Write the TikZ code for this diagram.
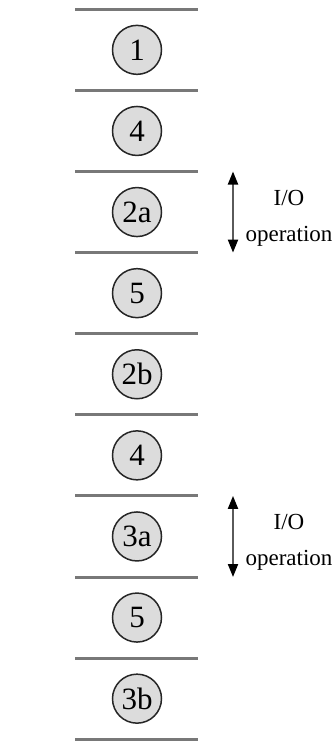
\documentclass[tikz,border=0pt]{standalone}
\usepackage{fontspec}
\setmainfont{Liberation Serif}
\usetikzlibrary{arrows.meta}
\definecolor{sepgray}{RGB}{120,120,120}
\definecolor{circfill}{RGB}{220,220,220}
\definecolor{arrgray}{RGB}{90,90,90}
\begin{document}
\begin{tikzpicture}[x=1pt,y=-1pt,
  sep/.style={draw=sepgray,line width=3pt},
  stage/.style={circle,draw=black!85,fill=circfill,line width=1.5pt,minimum size=49pt,inner sep=0pt,font=\fontsize{31}{31}\selectfont},
  io/.style={align=center,inner sep=0pt,font=\fontsize{23}{36}\selectfont},
  ioarrow/.style={draw=arrgray,line width=2pt,{Triangle[length=13pt,width=10pt,color=black]}-{Triangle[length=13pt,width=10pt,color=black]}}]
\useasboundingbox (0,0) rectangle (332,745);
\foreach \i in {0,...,9}
  \draw[sep] (75,{9.3+81.1*\i}) -- (198,{9.3+81.1*\i});
\foreach \t [count=\k from 0] in {1,4,2a,5,2b,4,3a,5,3b}
  \node[stage] (s\k) at (137,{49.85+81.1*\k}) {\t};
\coordinate (io1top) at (233,171.5);
\coordinate (io1bot) at (233,252.6);
\coordinate (io2top) at (233,495.9);
\coordinate (io2bot) at (233,577.0);
\draw[ioarrow] (io1top) -- (io1bot);
\draw[ioarrow] (io2top) -- (io2bot);
\node[io] (io1) at (289,218) {I/O\\operation};
\node[io] (io2) at (289,542.5) {I/O\\operation};
\end{tikzpicture}
\end{document}
